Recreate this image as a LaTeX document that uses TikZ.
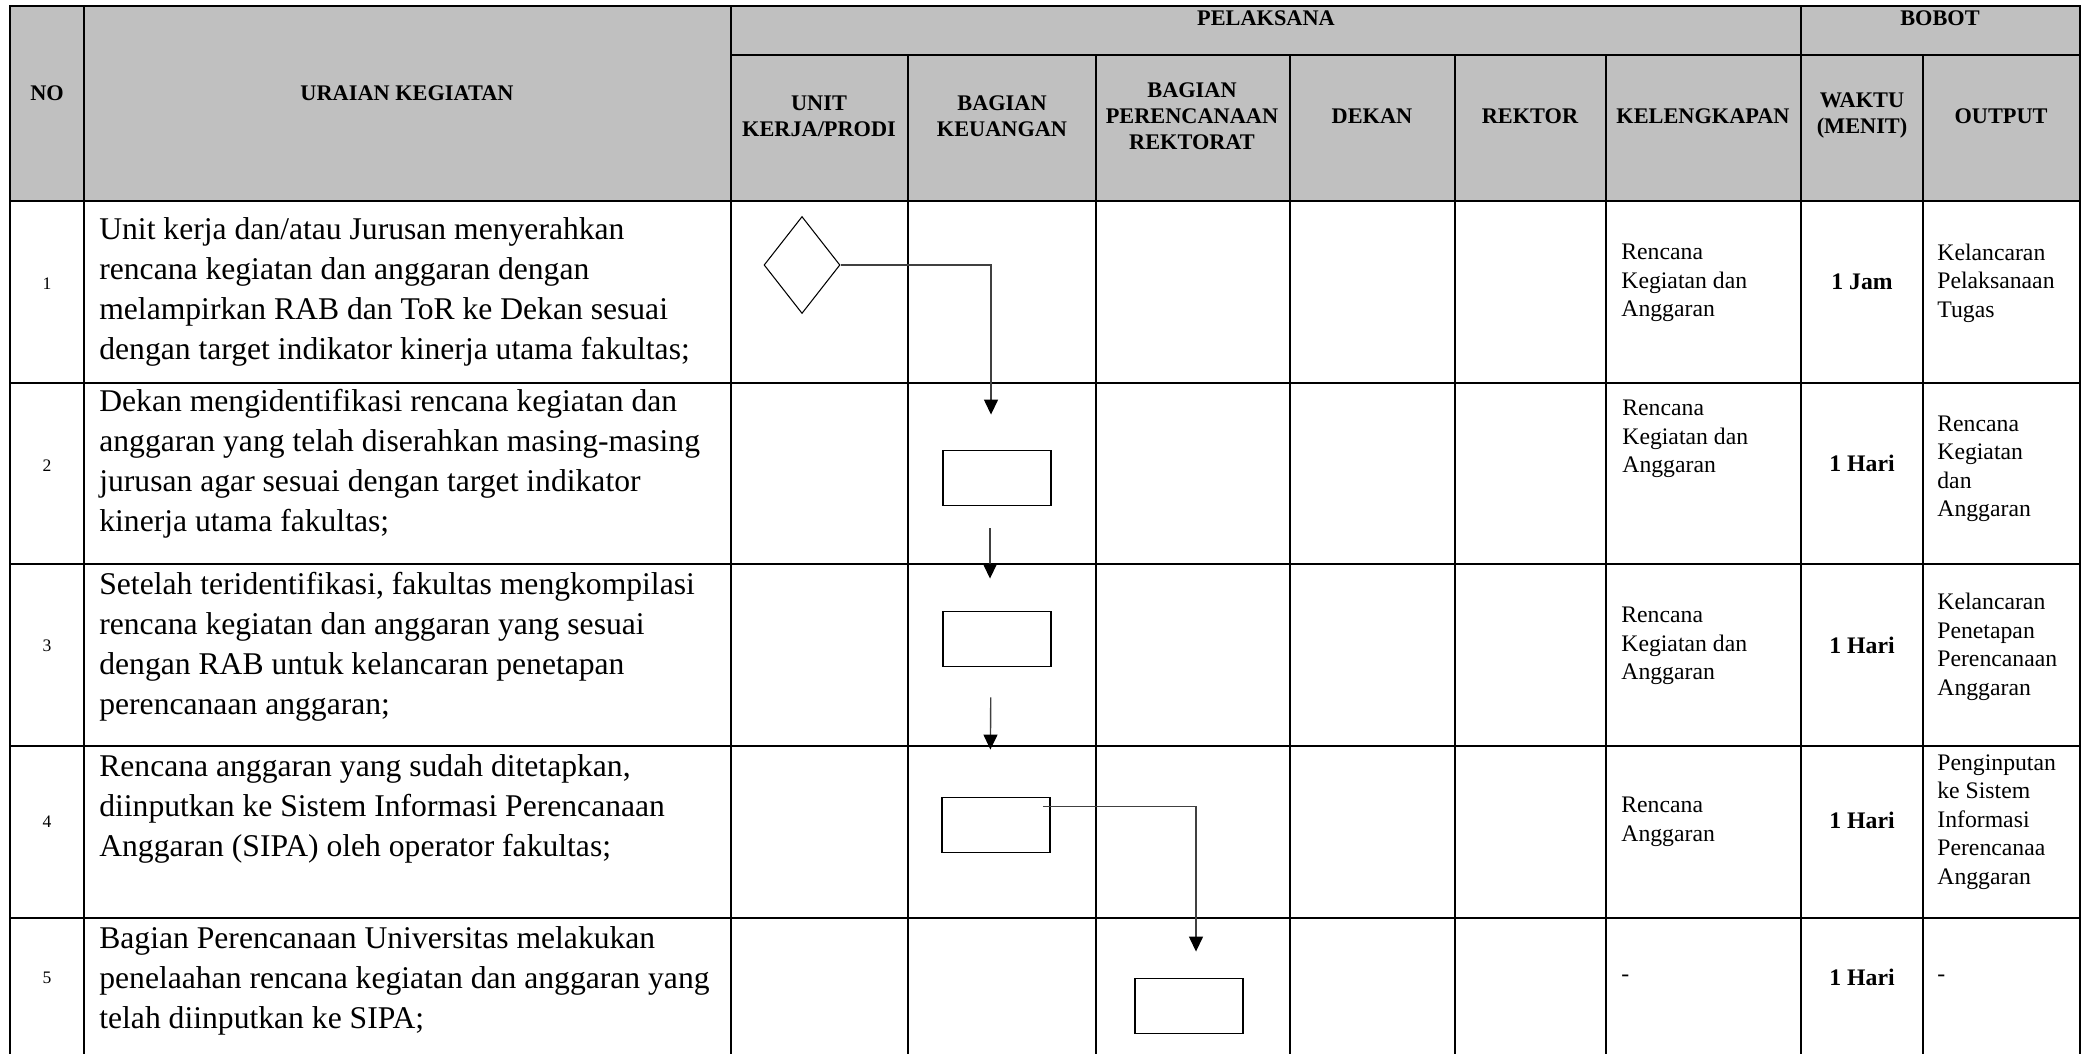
\documentclass[tikz,border=0pt]{standalone}
\usepackage{fontspec}
\setmainfont{Liberation Serif}
\usetikzlibrary{shapes.geometric,arrows.meta}
\definecolor{headgray}{HTML}{C0C0C0}
\definecolor{flowgray}{HTML}{404040}

\begin{document}
\begin{tikzpicture}[x=0.02cm, y=-0.02cm,
    grid/.style={line width=1.4pt},
    head/.style={font=\bfseries\fontsize{12.7}{14.8}\selectfont, align=center, inner sep=0pt},
    uraian/.style={anchor=west, align=left, inner sep=0pt, font=\fontsize{18}{22.8}\selectfont},
    nomor/.style={inner sep=0pt, font=\fontsize{10}{12}\selectfont},
    isi/.style={anchor=west, align=left, inner sep=0pt, font=\fontsize{13.5}{16.2}\selectfont},
    waktu/.style={inner sep=0pt, font=\bfseries\fontsize{13.5}{16}\selectfont},
    proses/.style={draw, line width=1.1pt, minimum width=2.16cm, minimum height=1.1cm, inner sep=0pt},
    mulai/.style={draw, diamond, line width=0.6pt, minimum width=1.52cm, minimum height=1.94cm, inner sep=0pt},
    flow/.style={draw=flowgray, line width=0.8pt, -{Triangle[width=0.28cm, length=0.3cm, color=black]}}]
    \useasboundingbox (0,0) rectangle (2088,1054);
    \fill[headgray] (10,6) rectangle (2080,201);

    \draw[grid] (10,1054) -- (10,6) -- (2080,6) -- (2080,1054);
    \draw[grid] (731,55) -- (2080,55);
    \foreach \y in {201,383,564,746,918}
        \draw[grid] (10,\y) -- (2080,\y);
    \foreach \x in {84,731,1801}
        \draw[grid] (\x,6) -- (\x,1054);
    \foreach \x in {908,1096,1290,1455,1606,1923}
        \draw[grid] (\x,55) -- (\x,1054);

    \node[head] (hno) at (47,93) {NO};
    \node[head] (huraian) at (407,93) {URAIAN KEGIATAN};
    \node[head] (hpelaksana) at (1266,18) {PELAKSANA};
    \node[head] (hbobot) at (1940,18) {BOBOT};
    \node[head] (hunit) at (819,116) {UNIT\\KERJA/PRODI};
    \node[head] (hkeuangan) at (1002,116) {BAGIAN\\KEUANGAN};
    \node[head] (hperencanaan) at (1192,116) {BAGIAN\\PERENCANAAN\\REKTORAT};
    \node[head] (hdekan) at (1372,116) {DEKAN};
    \node[head] (hrektor) at (1530,116) {REKTOR};
    \node[head] (hkelengkapan) at (1703,116) {KELENGKAPAN};
    \node[head] (hwaktu) at (1862,116) {WAKTU\\(MENIT)};
    \node[head] (houtput) at (2001,116) {OUTPUT};

    \node[nomor] (no1) at (47,284) {1};
    \node[nomor] (no2) at (47,466) {2};
    \node[nomor] (no3) at (47,646) {3};
    \node[nomor] (no4) at (47,822) {4};
    \node[nomor] (no5) at (47,978) {5};

    \node[uraian] (u1) at (99,292) {Unit kerja dan/atau Jurusan menyerahkan\\rencana kegiatan dan anggaran dengan\\melampirkan RAB dan ToR ke Dekan sesuai\\dengan target indikator kinerja utama fakultas;};
    \node[uraian] (u2) at (99,464) {Dekan mengidentifikasi rencana kegiatan dan\\anggaran yang telah diserahkan masing-masing\\jurusan agar sesuai dengan target indikator\\kinerja utama fakultas;};
    \node[uraian] (u3) at (99,647) {Setelah teridentifikasi, fakultas mengkompilasi\\rencana kegiatan dan anggaran yang sesuai\\dengan RAB untuk kelancaran penetapan\\perencanaan anggaran;};
    \node[uraian] (u4) at (99,809) {Rencana anggaran yang sudah ditetapkan,\\diinputkan ke Sistem Informasi Perencanaan\\Anggaran (SIPA) oleh operator fakultas;};
    \node[uraian] (u5) at (99,981) {Bagian Perencanaan Universitas melakukan\\penelaahan rencana kegiatan dan anggaran yang\\telah diinputkan ke SIPA;};

    \node[isi] (k1) at (1621,283) {Rencana\\Kegiatan dan\\Anggaran};
    \node[isi] (k2) at (1622,439) {Rencana\\Kegiatan dan\\Anggaran};
    \node[isi] (k3) at (1621,646) {Rencana\\Kegiatan dan\\Anggaran};
    \node[isi] (k4) at (1621,822) {Rencana\\Anggaran};
    \node[isi] (k5) at (1621,978) {-};

    \node[waktu] (w1) at (1862,282) {1 Jam};
    \node[waktu] (w2) at (1862,463) {1 Hari};
    \node[waktu] (w3) at (1862,645) {1 Hari};
    \node[waktu] (w4) at (1862,820) {1 Hari};
    \node[waktu] (w5) at (1862,977) {1 Hari};

    \node[isi] (o1) at (1937,283) {Kelancaran\\Pelaksanaan\\Tugas};
    \node[isi] (o2) at (1937,469) {Rencana\\Kegiatan\\dan\\Anggaran};
    \node[isi] (o3) at (1937,647) {Kelancaran\\Penetapan\\Perencanaan\\Anggaran};
    \node[isi] (o4) at (1937,822) {Penginputan\\ke Sistem\\Informasi\\Perencanaa\\Anggaran};
    \node[isi] (o5) at (1937,978) {-};

    \node[mulai] (d1) at (802,265) {};
    \node[proses] (b2) at (997,478) {};
    \node[proses] (b3) at (997,639) {};
    \node[proses] (b4) at (996,825) {};
    \node[proses] (b5) at (1189,1006) {};

    \draw[flow, shorten >=0.7cm] (d1.east) -| ([xshift=-0.12cm]b2.north);
    \draw[flow, shorten <=0.44cm, shorten >=0.64cm] ([xshift=-0.14cm]b2.south) -- ([xshift=-0.14cm]b3.north);
    \draw[flow, shorten <=0.6cm, shorten >=0.94cm] ([xshift=-0.12cm]b3.south) -- ([xshift=-0.12cm]b4.north);
    \draw[flow, shorten >=0.52cm] ([shift={(-8,10)}]b4.north east) -| ([xshift=0.14cm]b5.north);
\end{tikzpicture}
\end{document}
